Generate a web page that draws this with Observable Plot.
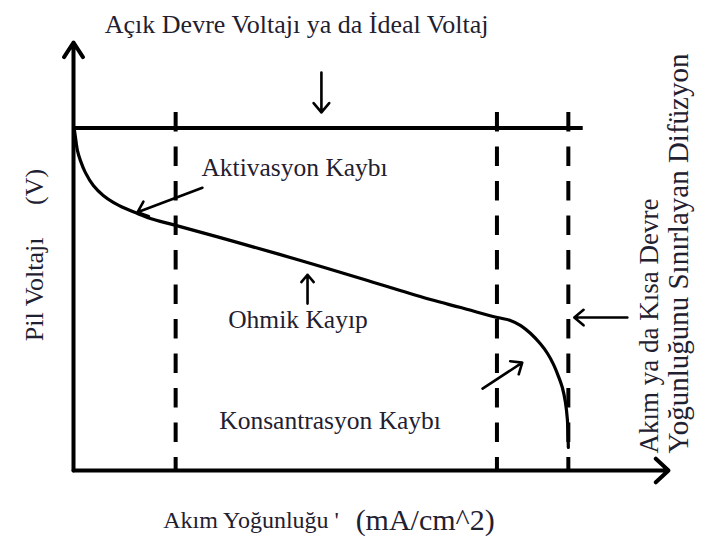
<!DOCTYPE html>
<html>
<head>
<meta charset="utf-8">
<script src="https://cdn.jsdelivr.net/npm/d3@7"></script>
<script src="https://cdn.jsdelivr.net/npm/@observablehq/plot@0.6"></script>
<style>
  html, body { margin: 0; padding: 0; background: #fff; }
  svg text { font-family: "Liberation Serif", "Times New Roman", serif; }
</style>
</head>
<body>
<div id="chart"></div>
<script>
// Polarization curve of a fuel cell: current density (mA/cm²) vs. cell voltage (V)
const currentDensity = [2, 4, 8, 14, 24, 40, 60, 81, 105, 129, 155, 206, 323, 458, 593, 720, 781, 855, 881, 902, 922, 942, 956, 968, 978, 986, 992, 996, 998];
const cellVoltage = [1.192, 1.167, 1.121, 1.086, 1.044, 0.999, 0.964, 0.939, 0.918, 0.901, 0.883, 0.859, 0.803, 0.736, 0.666, 0.599, 0.571, 0.536, 0.526, 0.508, 0.480, 0.443, 0.410, 0.372, 0.330, 0.290, 0.240, 0.180, 0.081];

// Open-circuit (ideal) voltage and the boundaries between loss regions
const idealVoltage = 1.2;
const idealLineEnd = 1028;
const regionBounds = [206, 854, 998];
const boundTop = 1.255;

// Axis extents
const xMax = 1200;
const yMax = 1.5;

// Text labels
const titleText = "Açık Devre Voltajı ya da İdeal Voltaj";
const regionLabels = ["Aktivasyon Kaybı", "Ohmik Kayıp", "Konsantrasyon Kaybı"];
const yTitle = "Pil Voltajı\u00a0\u00a0\u00a0\u00a0\u00a0(V)";
const xTitle = ["Akım Yoğunluğu ' ", "(mA/cm^2)"];
const limitLabel = ["Akım ya da Kısa Devre", "Yoğunluğunu Sınırlayan Difüzyon"];

const curve = currentDensity.map((i, k) => ({i, v: cellVoltage[k]}));

// Label anchors (data units)
const regionLabelPos = [
  {text: regionLabels[0], i: 258, v: 1.062},
  {text: regionLabels[1], i: 312, v: 0.529},
  {text: regionLabels[2], i: 294, v: 0.175}
];
const limitLabelPos = [
  {text: limitLabel[0], i: 1162, v: 0.06},
  {text: limitLabel[1], i: 1220, v: 0.06}
];

// Pointer arrows from labels to the curve
const pointers = [
  {i1: 500, v1: 1.395, i2: 500, v2: 1.255},  // to ideal voltage line
  {i1: 260, v1: 0.991, i2: 129, v2: 0.905},  // activation region
  {i1: 472, v1: 0.585, i2: 472, v2: 0.686},  // ohmic region
  {i1: 825, v1: 0.287, i2: 905, v2: 0.378},  // concentration region
  {i1: 1117, v1: 0.536, i2: 1010, v2: 0.536} // limiting current
];

const ink = "#1f2030";
const font = "'Liberation Serif', 'Times New Roman', serif";

const chart = Plot.plot({
  width: 704,
  height: 539,
  marginLeft: 73,
  marginRight: 36,
  marginTop: 42,
  marginBottom: 69,
  x: {domain: [0, xMax], axis: null},
  y: {domain: [0, yMax], axis: null},
  style: {fontFamily: font, background: "#fff"},
  marks: [
    // dashed region boundaries
    Plot.ruleX(regionBounds, {x: d => d, y1: boundTop, y2: 0, stroke: "#000", strokeWidth: 4, strokeDasharray: "19.5,15"}),
    // ideal voltage line
    Plot.ruleY([idealVoltage], {x1: 0, x2: idealLineEnd, stroke: "#000", strokeWidth: 4}),
    // axes with arrowheads
    Plot.arrow([{}], {x1: 0, y1: 0, x2: 0, y2: yMax, stroke: "#000", strokeWidth: 4, headLength: 6.5, headAngle: 66}),
    Plot.arrow([{}], {x1: 0, y1: 0, x2: xMax, y2: 0, stroke: "#000", strokeWidth: 4, headLength: 6.5, headAngle: 86}),
    // polarization curve
    Plot.line(curve, {x: "i", y: "v", curve: "catmull-rom", stroke: "#000", strokeWidth: 3.2}),
    // pointer arrows
    Plot.arrow(pointers, {x1: "i1", y1: "v1", x2: "i2", y2: "v2", stroke: "#000", strokeWidth: 2.6, headLength: 7, headAngle: 80}),
    // title above the ideal voltage line
    Plot.text([titleText], {x: 450, y: 1.563, text: d => d, fontSize: 26, fontFamily: font, fill: ink, textAnchor: "middle"}),
    // region labels
    Plot.text(regionLabelPos, {x: "i", y: "v", text: "text", fontSize: 25.5, fontFamily: font, fill: ink, textAnchor: "start"}),
    // axis titles
    Plot.text([yTitle], {x: -79, y: 0.755, text: d => d, fontSize: 26, fontFamily: font, fill: ink, rotate: -90}),
    Plot.text([xTitle[0]], {x: 181, y: -0.175, text: d => d, fontSize: 24, fontFamily: font, fill: ink, textAnchor: "start"}),
    Plot.text([xTitle[1]], {x: 569, y: -0.175, text: d => d, fontSize: 30, fontFamily: font, fill: ink, textAnchor: "start"}),
    // limiting-current note, two rotated lines
    Plot.text(limitLabelPos, {x: "i", y: "v", text: "text", fontSize: (d, k) => [27, 29][k], fontFamily: font, fill: ink, rotate: -90, textAnchor: "start"})
  ]
});

document.getElementById("chart").append(chart);
</script>
</body>
</html>
